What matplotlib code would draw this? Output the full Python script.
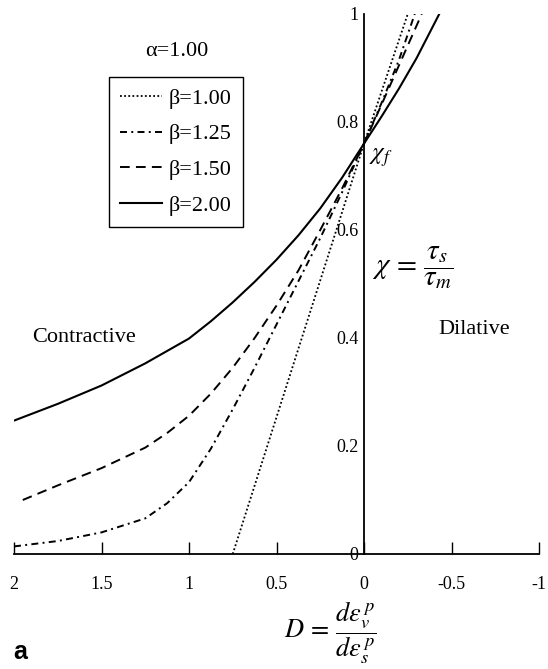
import matplotlib
matplotlib.use("Agg")
import matplotlib.pyplot as plt

plt.rcParams['font.family'] = ['Liberation Serif', 'DejaVu Serif']
plt.rcParams['mathtext.fontset'] = 'stix'
plt.rcParams['axes.unicode_minus'] = False

# dilatancy D (x) and stress ratio chi (y)
d_b100 = [0.75, 0.0, -0.25]
chi_b100 = [0.0, 0.76, 1.0]

d_b125 = [2.0, 1.75, 1.5, 1.25, 1.125, 1.0, 0.875, 0.75, 0.625, 0.5, 0.375, 0.25, 0.125, 0.0,
          -0.1, -0.2, -0.29]
chi_b125 = [0.014, 0.024, 0.040, 0.066, 0.094, 0.133, 0.195, 0.268, 0.345, 0.425, 0.505,
            0.585, 0.67, 0.76, 0.835, 0.915, 1.0]

d_b150 = [1.95, 1.75, 1.5, 1.25, 1.125, 1.0, 0.875, 0.75, 0.625, 0.5, 0.375, 0.25, 0.125, 0.0,
          -0.1, -0.2, -0.33]
chi_b150 = [0.10, 0.127, 0.159, 0.197, 0.224, 0.256, 0.297, 0.345, 0.40, 0.46, 0.525,
            0.60, 0.677, 0.76, 0.832, 0.905, 1.0]

d_b200 = [2.0, 1.75, 1.5, 1.25, 1.0, 0.875, 0.75, 0.625, 0.5, 0.375, 0.25, 0.125, 0.0,
          -0.1, -0.2, -0.3, -0.43]
chi_b200 = [0.247, 0.278, 0.312, 0.353, 0.399, 0.431, 0.466, 0.504, 0.545, 0.59, 0.64,
            0.697, 0.76, 0.81, 0.862, 0.918, 1.0]

x_ticks = [2, 1.5, 1, 0.5, 0, -0.5, -1]
x_labels = ['2', '1.5', '1', '0.5', '0', '-0.5', '-1']
y_ticks = [0, 0.2, 0.4, 0.6, 0.8, 1]
y_labels = ['0', '0.2', '0.4', '0.6', '0.8', '1']

fig = plt.figure(figsize=(5.48, 6.69), dpi=100)
ax = fig.add_axes([14/548, 115/669, 525/548, 540/669])

ax.plot(d_b100, chi_b100, color='black', lw=1.3, dashes=(1, 1.3), label='β=1.00')
ax.plot(d_b125, chi_b125, color='black', lw=1.4, dashes=(3.6, 2.2, 1, 2.2), label='β=1.25')
ax.plot(d_b150, chi_b150, color='black', lw=1.4, dashes=(5, 3.2), label='β=1.50')
ax.plot(d_b200, chi_b200, color='black', lw=1.5, label='β=2.00')

ax.set_xlim(2, -1)
ax.set_ylim(0, 1)
ax.spines['top'].set_visible(False)
ax.spines['right'].set_visible(False)
ax.spines['left'].set_position(('data', 0))
ax.spines['left'].set_linewidth(1.3)
ax.spines['bottom'].set_linewidth(1.3)

ax.set_xticks(x_ticks)
ax.set_xticklabels(x_labels)
ax.set_yticks(y_ticks)
ax.set_yticklabels(y_labels)
ax.tick_params(axis='x', direction='in', length=9, width=1, pad=16, labelsize=13)
ax.tick_params(axis='y', length=0, pad=4, labelsize=13)

leg = ax.legend(loc='upper left', bbox_to_anchor=(109/548, 1 - 77/669),
                bbox_transform=fig.transFigure, borderaxespad=0,
                fontsize=16, handlelength=1.9, handletextpad=0.3,
                labelspacing=0.68, borderpad=0.5, fancybox=False,
                edgecolor='black', framealpha=1)
leg.get_frame().set_linewidth(1.0)

fig.text(177/548, 1 - 52/669, 'α=1.00', fontsize=16, ha='center', va='center')
ax.text(1.897, 0.40, 'Contractive', fontsize=16, ha='left', va='center')
ax.text(-0.423, 0.415, 'Dilative', fontsize=16, ha='left', va='center')
ax.text(-0.046, 0.53, r'$\chi\,=\,\dfrac{\tau_s}{\tau_m}$', fontsize=21, ha='left', va='center')
ax.text(-0.03, 0.735, r'$\chi_f$', fontsize=18, ha='left', va='center')

fig.text(330/548, 1 - 633/669, r'$D\,=\,\dfrac{d\varepsilon_v^{\,p}}{d\varepsilon_s^{\,p}}$',
         fontsize=19, ha='center', va='center')
fig.text(13/548, 1 - 652/669, 'a', fontsize=18, fontweight='bold',
         family='Liberation Sans', ha='left', va='center')

fig.savefig('out.png', dpi=100)
